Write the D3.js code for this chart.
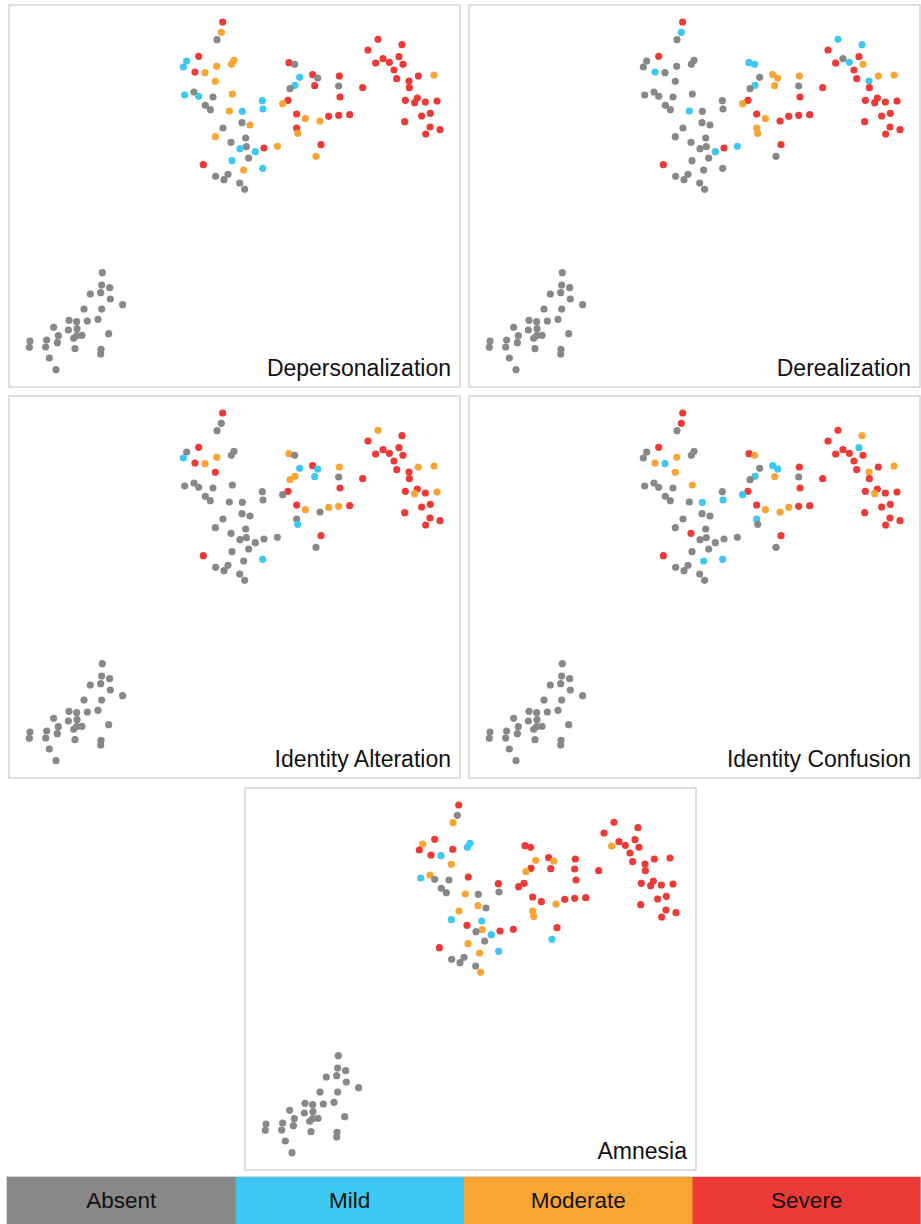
<!DOCTYPE html>
<html>
<head>
<meta charset="utf-8">
<script src="https://cdn.jsdelivr.net/npm/d3@7"></script>
<style>
  html, body { margin: 0; padding: 0; background: #ffffff; }
  svg { display: block; font-family: "Liberation Sans", Arial, Helvetica, sans-serif; }
</style>
</head>
<body>
<script>
// Symptom panels, in reading order
const symptoms = ["Depersonalization", "Derealization", "Identity Alteration", "Identity Confusion", "Amnesia"];

// Severity levels (legend)
const levels = ["Absent", "Mild", "Moderate", "Severe"];
const levelColors = ["#888888", "#3dc8f2", "#f9a532", "#ee3a36"];

// 2-D embedding of each participant (same layout in every panel)
const dim1 = [
  -2.62, -2.92, -3.88, -7.94, -10.61, -11.35, -8.76, -6.54, -3.95, -0.11,
  -0.70, -4.25, -11.05, -8.98, -7.94, -4.77, -0.48, -6.47, -5.36, -1.15,
  1.74, 6.17, 6.32, 1.66, 3.44, -2.55, -4.25, 2.48, -0.78, 2.62,
  1.22, 4.62, 3.14, 6.54, 9.50, -0.55, -6.91, 2.03, 6.25, -1.44,
  -4.18, -2.33, 1.15, 2.25, 12.08, 13.34, 14.45, 17.33, 18.44, 13.41,
  12.31, 17.78, 23.24, 23.10, 23.39, 11.86, 10.68, 13.78, 15.71, 18.96,
  20.88, 23.10, 25.54, 13.78, 14.01, 19.18, 18.07, 28.42, 31.82, 37.14,
  29.60, 32.93, 36.47, 31.30, 34.33, 37.36, 35.37, 35.96, 40.76, 44.24,
  38.69, 38.77, 37.88, 40.54, 39.95, 42.31, 44.90, 43.42, 41.50, 37.73,
  43.35, 45.57, 42.39,
  -29.31, -29.45, -27.68, -31.97, -29.67, -27.53, -24.80, -33.37, -29.45, -40.10,
  -36.70, -35.00, -32.63, -30.27, -36.84, -34.92, -39.06, -35.00, -33.81, -35.66,
  -39.28, -41.65, -41.87, -45.34, -45.49, -27.90, -35.37, -29.60, -29.67, -41.06,
  -39.58
];
const dim2 = [
  38.58, 36.29, 34.66, 30.97, 29.93, 28.60, 27.49, 27.35, 28.75, 30.08,
  29.19, 25.43, 22.39, 23.06, 22.10, 21.95, 22.62, 20.10, 19.14, 18.85,
  18.77, 21.14, 19.29, 16.26, 15.74, 15.08, 13.16, 12.86, 11.90, 10.94,
  10.49, 9.83, 8.43, 10.64, 11.01, 7.83, 6.95, 5.76, 6.13, 4.80,
  4.36, 3.62, 2.88, 1.48, 29.56, 29.19, 26.31, 26.90, 26.16, 24.54,
  23.80, 24.46, 26.61, 24.39, 21.95, 21.21, 20.47, 18.18, 17.15, 16.63,
  17.66, 17.89, 18.03, 15.08, 13.90, 11.38, 8.80, 24.02, 34.74, 33.55,
  32.37, 30.45, 30.89, 29.49, 29.64, 29.19, 27.94, 26.02, 26.61, 26.83,
  25.50, 24.02, 21.21, 21.73, 20.69, 20.84, 21.06, 18.33, 17.74, 16.48,
  15.30, 14.71, 13.75,
  -17.00, -19.73, -20.33, -21.73, -21.43, -22.84, -24.09, -25.06, -25.06, -29.12,
  -27.57, -27.86, -27.72, -27.35, -29.71, -29.42, -30.97, -30.97, -30.89, -31.56,
  -32.52, -31.93, -33.48, -32.15, -33.56, -30.53, -33.85, -34.00, -35.03, -35.92,
  -38.51
];

// Severity per participant: 0 absent, 1 mild, 2 moderate, 3 severe
const depersonalization = [
  3, 2, 0, 3, 1, 1, 3, 2, 2, 2,
  2, 2, 1, 0, 1, 0, 2, 0, 0, 2,
  1, 1, 1, 0, 2, 0, 2, 0, 0, 0,
  1, 1, 0, 3, 2, 1, 3, 2, 1, 0,
  0, 0, 0, 0, 3, 0, 1, 3, 0, 1,
  0, 3, 3, 0, 3, 3, 2, 3, 2, 2,
  3, 3, 3, 3, 2, 3, 2, 3, 3, 3,
  3, 3, 3, 3, 3, 3, 3, 3, 3, 2,
  3, 3, 3, 3, 3, 3, 3, 3, 3, 3,
  3, 3, 3,
  0, 0, 0, 0, 0, 0, 0, 0, 0, 0,
  0, 0, 0, 0, 0, 0, 0, 0, 0, 0,
  0, 0, 0, 0, 0, 0, 0, 0, 0, 0,
  0
];
const derealization = [
  3, 1, 0, 3, 0, 0, 1, 0, 0, 0,
  0, 0, 0, 0, 0, 0, 0, 0, 0, 1,
  0, 0, 0, 0, 0, 0, 0, 0, 0, 0,
  0, 1, 0, 3, 1, 0, 3, 0, 0, 0,
  0, 0, 0, 0, 1, 1, 0, 2, 2, 1,
  0, 2, 2, 0, 3, 3, 2, 3, 2, 3,
  3, 3, 3, 2, 2, 3, 0, 3, 1, 1,
  3, 0, 3, 3, 1, 2, 3, 3, 2, 2,
  1, 3, 3, 3, 3, 3, 3, 3, 3, 3,
  3, 3, 3,
  0, 0, 0, 0, 0, 0, 0, 0, 0, 0,
  0, 0, 0, 0, 0, 0, 0, 0, 0, 0,
  0, 0, 0, 0, 0, 0, 0, 0, 0, 0,
  0
];
const identityAlteration = [
  3, 0, 0, 3, 0, 1, 3, 2, 2, 0,
  0, 3, 0, 0, 0, 0, 0, 0, 0, 0,
  0, 0, 0, 0, 0, 0, 0, 0, 0, 0,
  0, 0, 0, 0, 0, 0, 3, 0, 1, 0,
  0, 0, 0, 0, 2, 0, 1, 3, 1, 2,
  2, 1, 2, 0, 3, 3, 0, 3, 2, 0,
  2, 2, 3, 0, 1, 3, 0, 3, 2, 3,
  3, 3, 3, 3, 3, 3, 3, 3, 2, 2,
  3, 3, 3, 3, 2, 3, 2, 3, 3, 3,
  3, 3, 3,
  0, 0, 0, 0, 0, 0, 0, 0, 0, 0,
  0, 0, 0, 0, 0, 0, 0, 0, 0, 0,
  0, 0, 0, 0, 0, 0, 0, 0, 0, 0,
  0
];
const identityConfusion = [
  3, 3, 0, 3, 0, 0, 2, 1, 2, 0,
  0, 2, 0, 0, 0, 0, 2, 0, 0, 0,
  1, 0, 1, 0, 0, 0, 0, 0, 3, 0,
  0, 0, 0, 0, 0, 0, 3, 1, 1, 0,
  0, 0, 0, 0, 3, 2, 0, 1, 1, 1,
  0, 2, 3, 0, 3, 3, 1, 3, 2, 2,
  2, 3, 3, 1, 0, 3, 0, 3, 3, 2,
  3, 3, 1, 3, 3, 3, 3, 3, 3, 2,
  2, 3, 3, 3, 2, 3, 3, 3, 3, 3,
  3, 3, 3,
  0, 0, 0, 0, 0, 0, 0, 0, 0, 0,
  0, 0, 0, 0, 0, 0, 0, 0, 0, 0,
  0, 0, 0, 0, 0, 0, 0, 0, 0, 0,
  0
];
const amnesia = [
  3, 0, 2, 3, 2, 3, 3, 1, 3, 1,
  1, 2, 1, 2, 0, 0, 3, 0, 0, 2,
  0, 3, 0, 2, 0, 2, 1, 1, 3, 2,
  0, 1, 0, 3, 3, 2, 3, 2, 1, 0,
  0, 0, 0, 2, 3, 3, 2, 3, 2, 3,
  2, 3, 3, 3, 3, 3, 3, 3, 3, 2,
  3, 3, 3, 2, 2, 3, 1, 3, 3, 3,
  3, 3, 3, 2, 3, 3, 3, 3, 3, 3,
  3, 3, 3, 3, 3, 3, 3, 3, 3, 3,
  3, 3, 3,
  0, 0, 0, 0, 0, 0, 0, 0, 0, 0,
  0, 0, 0, 0, 0, 0, 0, 0, 0, 0,
  0, 0, 0, 0, 0, 0, 0, 0, 0, 0,
  0
];

const severityBySymptom = [depersonalization, derealization, identityAlteration, identityConfusion, amnesia];

// ---- drawing ----
const W = 921, H = 1224;
const panelW = 451, panelH = 382;
const panelPos = [[9, 5], [469, 5], [9, 396], [469, 396], [245, 788]];

const svg = d3.select("body").append("svg")
  .attr("width", W).attr("height", H)
  .attr("viewBox", `0 0 ${W} ${H}`);

const x = d3.scaleLinear().domain([-50, 50]).range([0, panelW]);
const y = d3.scaleLinear().domain([42.35, -42.35]).range([0, panelH]);
const color = d3.scaleOrdinal().domain([0, 1, 2, 3]).range(levelColors);

const points = dim1.map((d, i) => ({ i, d1: d, d2: dim2[i] }));

symptoms.forEach((name, k) => {
  const sev = severityBySymptom[k];
  const g = svg.append("g")
    .attr("transform", `translate(${panelPos[k][0]},${panelPos[k][1]})`);

  g.append("rect")
    .attr("x", 0).attr("y", 0)
    .attr("width", panelW).attr("height", panelH)
    .attr("fill", "#ffffff")
    .attr("stroke", "#d4d4d4")
    .attr("stroke-width", 1.5);

  g.append("g").selectAll("circle")
    .data(points)
    .join("circle")
    .attr("cx", p => x(p.d1))
    .attr("cy", p => y(p.d2))
    .attr("r", 3.6)
    .attr("fill", p => color(sev[p.i]));

  g.append("text")
    .attr("x", panelW - 9)
    .attr("y", panelH - 11)
    .attr("text-anchor", "end")
    .attr("font-size", 23)
    .attr("fill", "#111111")
    .text(name);
});

// Severity legend bar along the bottom
const band = d3.scaleBand().domain(levels).range([7, 921]).paddingInner(0).paddingOuter(0);
const legend = svg.append("g");
const legendTop = 1177, legendH = 47;

legend.selectAll("rect")
  .data(levels)
  .join("rect")
  .attr("x", d => band(d))
  .attr("y", legendTop)
  .attr("width", band.bandwidth() + 0.5)
  .attr("height", legendH)
  .attr("fill", (d, i) => levelColors[i]);

legend.append("rect")
  .attr("x", 6.5).attr("y", legendTop - 0.5)
  .attr("width", 914.5).attr("height", legendH + 1)
  .attr("fill", "none")
  .attr("stroke", "#d4d4d4")
  .attr("stroke-width", 1);

legend.selectAll("text")
  .data(levels)
  .join("text")
  .attr("x", d => band(d) + band.bandwidth() / 2)
  .attr("y", 1208)
  .attr("text-anchor", "middle")
  .attr("font-size", 22.5)
  .attr("fill", "#111111")
  .text(d => d);
</script>
</body>
</html>
